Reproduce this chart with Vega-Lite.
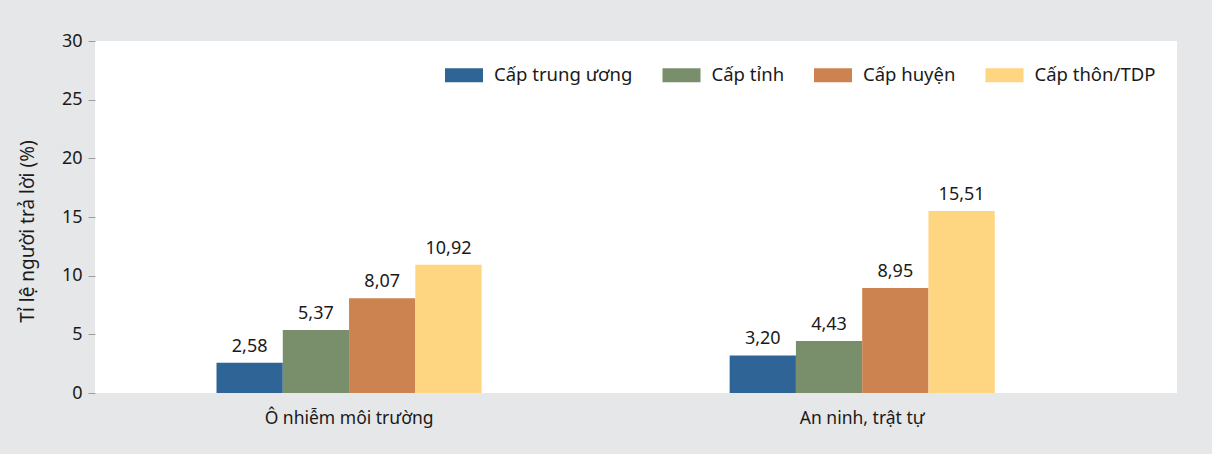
{
  "$schema": "https://vega.github.io/schema/vega-lite/v6.json",
  "width": 1082,
  "height": 352,
  "autosize": {"type": "none"},
  "padding": {"left": 95, "top": 41, "right": 35, "bottom": 61},
  "background": "#e6e7e8",
  "config": {
    "view": {"fill": "white", "stroke": null},
    "font": "Noto Sans",
    "locale": {"number": {"decimal": ",", "thousands": ".", "grouping": [3], "currency": ["", ""]}}
  },
  "data": {
    "values": [
      {"issue": "Ô nhiễm môi trường", "level": "Cấp trung ương", "value": 2.58},
      {"issue": "Ô nhiễm môi trường", "level": "Cấp tỉnh", "value": 5.37},
      {"issue": "Ô nhiễm môi trường", "level": "Cấp huyện", "value": 8.07},
      {"issue": "Ô nhiễm môi trường", "level": "Cấp thôn/TDP", "value": 10.92},
      {"issue": "An ninh, trật tự", "level": "Cấp trung ương", "value": 3.20},
      {"issue": "An ninh, trật tự", "level": "Cấp tỉnh", "value": 4.43},
      {"issue": "An ninh, trật tự", "level": "Cấp huyện", "value": 8.95},
      {"issue": "An ninh, trật tự", "level": "Cấp thôn/TDP", "value": 15.51}
    ]
  },
  "encoding": {
    "x": {
      "field": "issue", "type": "nominal", "sort": null,
      "scale": {"paddingInner": 0.4834, "paddingOuter": 0.296, "align": 0.4},
      "axis": {"title": null, "labelAngle": 0, "domain": false, "ticks": false, "labelFontSize": 17.5, "labelColor": "#1a1a1a", "labelPadding": 16}
    },
    "xOffset": {
      "field": "level", "type": "nominal",
      "sort": ["Cấp trung ương", "Cấp tỉnh", "Cấp huyện", "Cấp thôn/TDP"],
      "scale": {"paddingInner": 0, "paddingOuter": 0}
    },
    "y": {
      "field": "value", "type": "quantitative",
      "scale": {"domain": [0, 30]},
      "axis": {
        "title": "Tỉ lệ người trả lời (%)", "values": [0, 5, 10, 15, 20, 25, 30],
        "grid": false, "domain": false, "tickColor": "#9d9d9d", "tickSize": 7, "labelPadding": 6,
        "labelFontSize": 18, "labelColor": "#1a1a1a", "titleFontSize": 19, "titleFontWeight": "normal", "titleColor": "#1a1a1a", "titlePadding": 24, "titleY": 190
      }
    }
  },
  "layer": [
    {
      "mark": {"type": "bar"},
      "encoding": {
        "color": {
          "field": "level", "type": "nominal",
          "sort": ["Cấp trung ương", "Cấp tỉnh", "Cấp huyện", "Cấp thôn/TDP"],
          "scale": {"domain": ["Cấp trung ương", "Cấp tỉnh", "Cấp huyện", "Cấp thôn/TDP"], "range": ["#2f6496", "#798f6c", "#cd8350", "#fed580"]},
          "legend": {
            "title": null, "orient": "none", "legendX": 350, "legendY": 15, "direction": "horizontal", "padding": 0,
            "symbolType": "M-1,-0.37H1V0.37H-1Z", "symbolSize": 1444, "symbolStrokeWidth": 0, "symbolOpacity": 1,
            "labelFontSize": 18.5, "labelColor": "#1a1a1a", "labelOffset": 11, "columnPadding": 29.5, "labelLimit": 300
          }
        }
      }
    },
    {
      "mark": {"type": "text", "dy": -11, "baseline": "alphabetic", "fontSize": 18, "color": "#1a1a1a"},
      "encoding": {
        "text": {"field": "value", "type": "quantitative", "format": ".2f"}
      }
    }
  ]
}
